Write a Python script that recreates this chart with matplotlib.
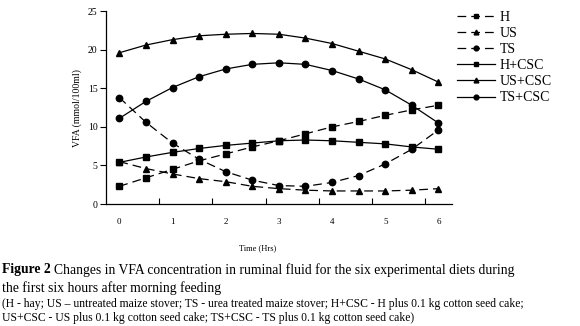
import matplotlib
matplotlib.use("Agg")
import matplotlib.pyplot as plt

plt.rcParams['font.family'] = ['Liberation Serif', 'DejaVu Serif']

hours = [0, 0.5, 1, 1.5, 2, 2.5, 3, 3.5, 4, 4.5, 5, 5.5, 6]
H = [2.3, 3.4, 4.5, 5.6, 6.5, 7.4, 8.2, 9.1, 10.0, 10.7, 11.5, 12.2, 12.8]
US = [5.5, 4.6, 3.9, 3.3, 2.9, 2.3, 2.0, 1.8, 1.7, 1.7, 1.7, 1.8, 2.0]
TS = [13.8, 10.6, 7.9, 5.8, 4.2, 3.1, 2.4, 2.3, 2.8, 3.7, 5.2, 7.1, 9.6]
H_CSC = [5.4, 6.1, 6.7, 7.2, 7.6, 7.9, 8.2, 8.3, 8.2, 8.0, 7.8, 7.4, 7.1]
US_CSC = [19.6, 20.6, 21.3, 21.8, 22.0, 22.1, 22.0, 21.5, 20.8, 19.8, 18.8, 17.4, 15.8]
TS_CSC = [11.1, 13.3, 15.1, 16.5, 17.5, 18.1, 18.3, 18.1, 17.3, 16.2, 14.8, 12.8, 10.5]

labels = ['H', 'US', 'TS', 'H+CSC', 'US+CSC', 'TS+CSC']
series = [H, US, TS, H_CSC, US_CSC, TS_CSC]
markers = ['s', '^', 'o', 's', '^', 'o']
styles = ['dashed', 'dashed', 'dashed', 'solid', 'solid', 'solid']
xtick_labels = ['0', '1', '2', '3', '4', '5', '6']

fig = plt.figure(figsize=(5.8, 3.26), dpi=100)
ax = fig.add_axes([0.1828, 0.374, 0.596, 0.592])

for vals, lab, m, ls in zip(series, labels, markers, styles):
    kw = dict(color='black', linewidth=0.9, marker=m, markersize=4.6,
              markerfacecolor='black', markeredgecolor='black', label=lab)
    if ls == 'dashed':
        ax.plot(hours, vals, linestyle=(0, (7, 4)), **kw)
    else:
        ax.plot(hours, vals, linestyle='-', **kw)

ax.set_xlim(-0.25, 6.25)
ax.set_ylim(0, 25)
ax.set_yticks([0, 5, 10, 15, 20, 25])
ax.set_xticks(range(7))
ax.set_xticklabels(xtick_labels)
ax.tick_params(axis='x', which='major', length=0, labelsize=6.5, pad=10)
ax.set_xticks([0.75, 1.75, 2.75, 3.75, 4.75, 5.75], minor=True)
ax.tick_params(axis='x', which='minor', direction='in', length=4, width=0.8)
ax.tick_params(axis='y', direction='out', length=4, width=0.8, labelsize=7, pad=2)
for s in ['top', 'right']:
    ax.spines[s].set_visible(False)
for s in ['left', 'bottom']:
    ax.spines[s].set_linewidth(0.9)

ax.set_ylabel('VFA (mmol/100ml)', fontsize=7, labelpad=4)
ax.set_xlabel('Time (Hrs)', fontsize=6)
ax.xaxis.set_label_coords(0.44, -0.21)

leg = ax.legend(loc='upper left', bbox_to_anchor=(1.014, 1.0), frameon=False,
                fontsize=10, handlelength=2.8, handletextpad=0.3,
                labelspacing=0.22, markerscale=0.75, borderaxespad=0, borderpad=0)

renderer = fig.canvas.get_renderer()
t_bold = fig.text(0.004, 0.172, 'Figure 2', fontsize=9.8, fontweight='bold', va='center')
bb = t_bold.get_window_extent(renderer=renderer)
x_next = (bb.x1 + 3) / fig.bbox.width
fig.text(x_next, 0.172, 'Changes in VFA concentration in ruminal fluid for the six experimental diets during',
         fontsize=9.8, va='center')
fig.text(0.004, 0.117, 'the first six hours after morning feeding', fontsize=9.8, va='center')
fig.text(0.004, 0.068, '(H - hay; US \u2013 untreated maize stover; TS - urea treated maize stover; H+CSC - H plus 0.1 kg cotton seed cake;',
         fontsize=8.35, va='center')
fig.text(0.004, 0.025, 'US+CSC - US plus 0.1 kg cotton seed cake; TS+CSC - TS plus 0.1 kg cotton seed cake)',
         fontsize=8.35, va='center')

fig.savefig('out.png', dpi=100)
